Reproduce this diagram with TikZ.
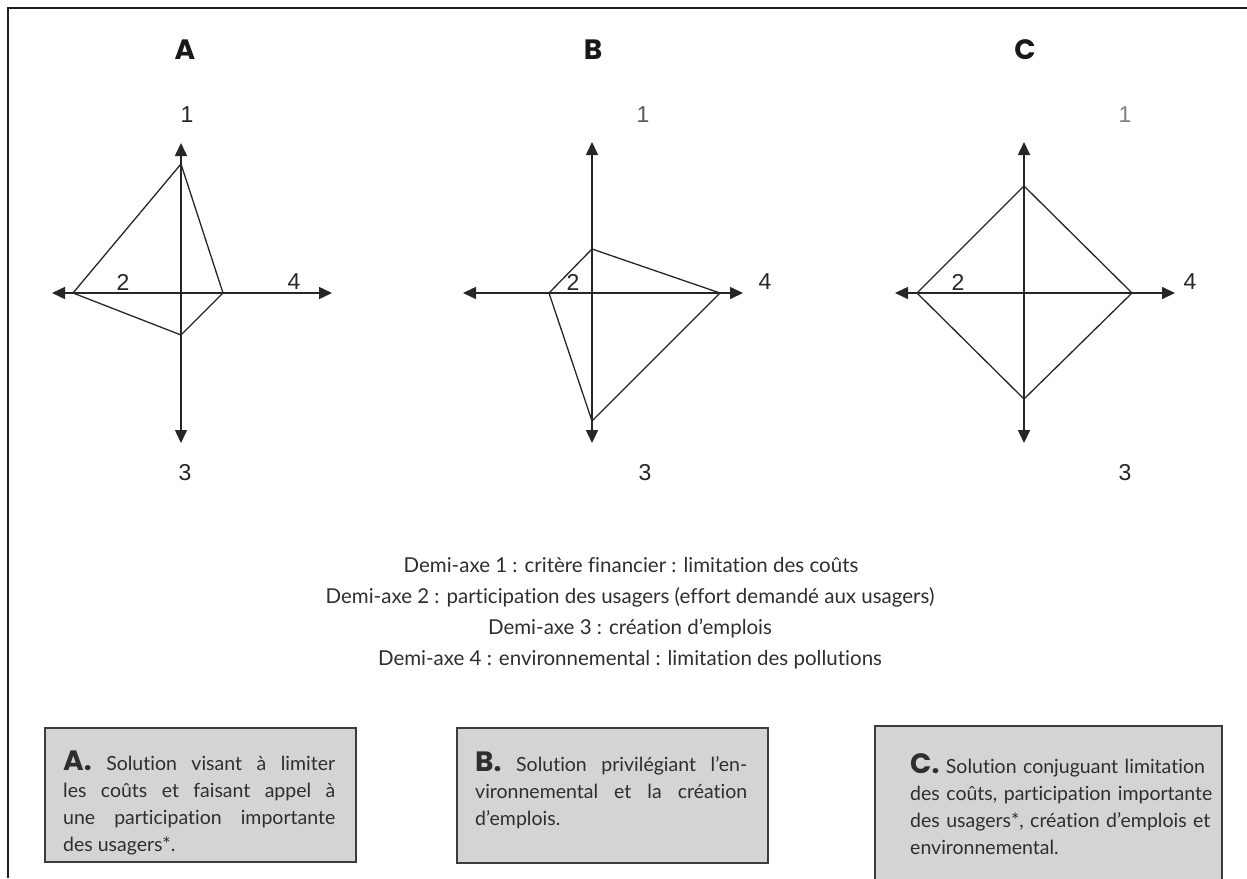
\documentclass[tikz,border=0pt]{standalone}
\usepackage{fontspec}
\setmainfont{Lato}[Ligatures=NoCommon]
\newfontfamily\titlefont{Poppins}
\newfontfamily\numfont{Liberation Sans}
\usetikzlibrary{arrows.meta}
\definecolor{ink}{HTML}{2E2E2E}
\definecolor{boxfill}{HTML}{D4D4D6}
\definecolor{boxline}{HTML}{3C3C3C}
\newcommand\solletter[1]{{\titlefont\bfseries\fontsize{28}{28}\selectfont #1}}
\begin{document}
\begin{tikzpicture}[x=1pt,y=-1pt,
  axis/.style={line width=1.6pt, black!85, {Triangle[length=13pt,width=12pt]}-{Triangle[length=13pt,width=12pt]}},
  poly/.style={line width=1.3pt, black!85, line join=miter},
  num/.style={font=\numfont\fontsize{23}{23}\selectfont, text=black!85, inner sep=0pt},
  title/.style={font=\titlefont\bfseries\fontsize{28}{28}\selectfont, text=black!90, inner sep=0pt},
  legend/.style={font=\fontsize{20.5}{20.5}\selectfont, text=ink, inner sep=0pt, anchor=base},
  solbox/.style={draw=boxline, fill=boxfill, line width=1.2pt},
  soltext/.style={font=\fontsize{19.5}{27}\selectfont, text=ink, inner sep=0pt, text width=#1, anchor=base west},
  frame/.style={line width=2.6pt, black!88}
]
\useasboundingbox (0,0) rectangle (1247,878);

% frame (top and left)
\coordinate (f1) at (8,878);
\coordinate (f2) at (8,8);
\coordinate (f3) at (1247,8);
\draw[frame] (f1) -- (f2) -- (f3);

% ---------- Diagram A ----------
\node[title] (titleA) at (185,50) {A};
\coordinate (A-t) at (181,143);
\coordinate (A-b) at (181,443);
\coordinate (A-l) at (52,293);
\coordinate (A-r) at (332,293);
\draw[axis] (A-b) -- (A-t);
\draw[axis] (A-l) -- (A-r);
\coordinate (A-p1) at (181,164);
\coordinate (A-p2) at (73,293);
\coordinate (A-p3) at (181,335);
\coordinate (A-p4) at (223,293);
\draw[poly] (A-p1) -- (A-p2) -- (A-p3) -- (A-p4) -- cycle;
\node[num] (A-n1) at (187,115) {1};
\node[num] (A-n2) at (123,282) {2};
\node[num] (A-n4) at (294,282) {4};
\node[num] (A-n3) at (185,473) {3};

% ---------- Diagram B ----------
\node[title] (titleB) at (593,50) {B};
\coordinate (B-t) at (592,142);
\coordinate (B-b) at (592,443);
\coordinate (B-l) at (463,293);
\coordinate (B-r) at (743,293);
\draw[axis] (B-b) -- (B-t);
\draw[axis] (B-l) -- (B-r);
\coordinate (B-p1) at (592,249);
\coordinate (B-p2) at (549,293);
\coordinate (B-p3) at (592,421);
\coordinate (B-p4) at (720,293);
\draw[poly] (B-p1) -- (B-p2) -- (B-p3) -- (B-p4) -- cycle;
\node[num, text=black!65] (B-n1) at (643,115) {1};
\node[num] (B-n2) at (573,282) {2};
\node[num] (B-n4) at (765,282) {4};
\node[num] (B-n3) at (645,473) {3};

% ---------- Diagram C ----------
\node[title] (titleC) at (1025,50) {C};
\coordinate (C-t) at (1024,142);
\coordinate (C-b) at (1024,443);
\coordinate (C-l) at (895,293);
\coordinate (C-r) at (1175,293);
\draw[axis] (C-b) -- (C-t);
\draw[axis] (C-l) -- (C-r);
\coordinate (C-p1) at (1024,186);
\coordinate (C-p2) at (917,293);
\coordinate (C-p3) at (1024,399);
\coordinate (C-p4) at (1132,293);
\draw[poly] (C-p1) -- (C-p2) -- (C-p3) -- (C-p4) -- cycle;
\node[num, text=black!50] (C-n1) at (1125,115) {1};
\node[num] (C-n2) at (958,282) {2};
\node[num] (C-n4) at (1190,282) {4};
\node[num] (C-n3) at (1125,473) {3};

% ---------- Legend ----------
\node[legend] (leg1) at (631,572) {Demi-axe 1 : critère financier : limitation des coûts};
\node[legend] (leg2) at (630,603) {Demi-axe 2 : participation des usagers (effort demandé aux usagers)};
\node[legend] (leg3) at (630,634) {Demi-axe 3 : création d’emplois};
\node[legend] (leg4) at (630,665) {Demi-axe 4 : environnemental : limitation des pollutions};

% ---------- Boxes ----------
\coordinate (bA1) at (45,728);
\coordinate (bA2) at (356,862);
\draw[solbox] (bA1) rectangle (bA2);
\node[soltext=272pt, align=justify] (txtA) at (63,770) {%
\solletter{A.} Solution visant à limiter\linebreak
les coûts et faisant appel à\linebreak
une participation importante\linebreak
des usagers*.};

\coordinate (bB1) at (457,728);
\coordinate (bB2) at (768,863);
\draw[solbox] (bB1) rectangle (bB2);
\node[soltext=272pt, align=justify] (txtB) at (475,771) {%
\solletter{B.} Solution privilégiant l’en-\linebreak
vironnemental et la création\linebreak
d’emplois.};

\coordinate (bC1) at (875,726);
\coordinate (bC2) at (1222,895);
\draw[solbox] (bC1) rectangle (bC2);
\node[soltext=330pt, align=left] (txtC) at (910,773) {%
\solletter{C.} Solution conjuguant limitation\\
des coûts, participation importante\\
des usagers*, création d’emplois et\\
environnemental.};
\end{tikzpicture}
\end{document}
